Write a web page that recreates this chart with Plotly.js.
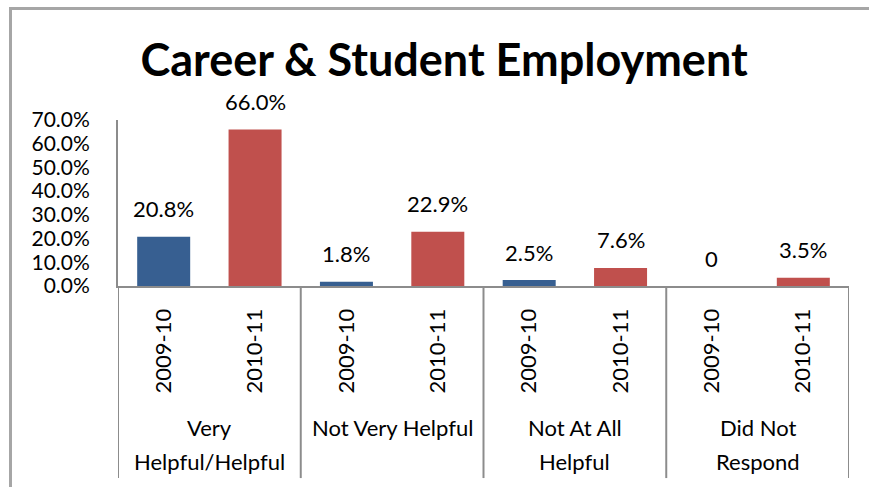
<!DOCTYPE html>
<html>
<head>
<meta charset="utf-8">
<script src="https://cdn.plot.ly/plotly-3.0.1.min.js"></script>
<style>
html,body{margin:0;padding:0;background:#fff;overflow:hidden;width:869px;height:487px;}
#frame{position:absolute;left:9px;top:7px;width:900px;height:520px;border-left:3px solid #A6A6A6;border-top:3px solid #A6A6A6;box-sizing:border-box;}
#chart{position:absolute;left:0;top:0;width:869px;height:487px;overflow:hidden;}
</style>
</head>
<body>
<div id="frame"></div>
<div id="chart"></div>
<script>
// ---- data ----
var groups = ['Very<br>Helpful/Helpful', 'Not Very Helpful', 'Not At All<br>Helpful', 'Did Not<br>Respond'];
var years = ['2009-10', '2010-11'];
var values2009 = [20.8, 1.8, 2.5, 0];
var values2010 = [66.0, 22.9, 7.6, 3.5];
var yTicks = [0, 10, 20, 30, 40, 50, 60, 70];

// ---- build ----
var FONT = 'Lato, "Open Sans", sans-serif';
var nG = groups.length, nY = years.length;
var xBlue = [], xRed = [], tickvals = [], ticktext = [];
for (var g = 0; g < nG; g++) {
  xBlue.push(g * nY);
  xRed.push(g * nY + 1);
  for (var k = 0; k < nY; k++) { tickvals.push(g * nY + k); ticktext.push(years[k]); }
}
function lab(v) { return v === 0 ? '0' : v.toFixed(1) + '%'; }

var traces = [
  {type: 'bar', x: xBlue, y: values2009, name: years[0], width: 0.58,
   marker: {color: '#375F91'}, hoverinfo: 'y'},
  {type: 'bar', x: xRed, y: values2010, name: years[1], width: 0.58,
   marker: {color: '#C0504D'}, hoverinfo: 'y'}
];

var annotations = [];
function addLabels(xs, vs) {
  for (var i = 0; i < xs.length; i++) {
    annotations.push({x: xs[i], y: vs[i], xref: 'x', yref: 'y', text: lab(vs[i]),
      showarrow: false, yanchor: 'middle', yshift: 28,
      font: {family: FONT, size: 22, color: '#000'}});
  }
}
addLabels(xBlue, values2009);
addLabels(xRed, values2010);

// group labels, one annotation per line
for (var g = 0; g < nG; g++) {
  var lines = groups[g].split('<br>');
  for (var l = 0; l < lines.length; l++) {
    annotations.push({x: g * nY + (nY - 1) / 2, xref: 'x', yref: 'paper',
      y: -0.855 - l * 0.2, yanchor: 'middle', text: lines[l], showarrow: false,
      font: {family: FONT, size: 22, color: '#000'}});
  }
}

var shapes = [];
var LINE = '#8C8C8C';
for (var g = 0; g <= nG; g++) {
  shapes.push({type: 'line', xref: 'x', yref: 'paper', x0: g * nY - 0.5, x1: g * nY - 0.5,
    y0: 0, y1: -1.157, line: {color: LINE, width: 2}});
}

var layout = {
  width: 869, height: 487,
  margin: {l: 118, r: 20, t: 120, b: 201},
  paper_bgcolor: 'rgba(0,0,0,0)', plot_bgcolor: 'rgba(0,0,0,0)',
  showlegend: false,
  barmode: 'overlay',
  title: {text: 'Career & Student Employment', x: 0.511, xref: 'container', xanchor: 'center',
    y: 0.877, yref: 'container', yanchor: 'middle',
    font: {family: FONT, size: 45, color: '#000', weight: 'bold'}},
  xaxis: {range: [-0.5, nG * nY - 0.5], tickmode: 'array', tickvals: tickvals, ticktext: ticktext,
    tickangle: -90, showgrid: false, zeroline: false, showline: true, linecolor: LINE, linewidth: 2,
    ticks: '', ticklabelstandoff: 12, fixedrange: true,
    tickfont: {family: FONT, size: 22, color: '#000'}},
  yaxis: {range: [0, 70], tickmode: 'array', tickvals: yTicks,
    ticktext: yTicks.map(function (t) { return t.toFixed(1) + '%'; }),
    showgrid: false, zeroline: false, showline: true, linecolor: LINE, linewidth: 2,
    ticks: '', ticklabelstandoff: 22, fixedrange: true,
    tickfont: {family: FONT, size: 21, color: '#000'}},
  annotations: annotations,
  shapes: shapes
};

Plotly.newPlot('chart', traces, layout, {displayModeBar: false, staticPlot: true});
</script>
</body>
</html>
